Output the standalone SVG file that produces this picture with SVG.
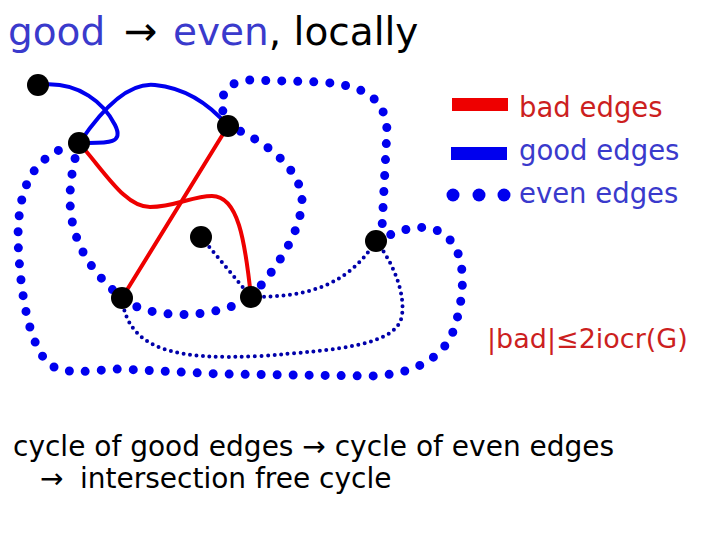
<svg xmlns="http://www.w3.org/2000/svg" width="720" height="540" viewBox="0 0 720 540">
<style>
text{font-family:"DejaVu Sans","Verdana",sans-serif}
.good{fill:none;stroke:#0000ee;stroke-width:4;stroke-linecap:round}
.bad{fill:none;stroke:#ee0000;stroke-width:4;stroke-linecap:round}
.even{fill:none;stroke:#0000ee;stroke-width:9;stroke-linecap:round;stroke-dasharray:0 16}
.small{fill:none;stroke:#0000aa;stroke-width:4;stroke-linecap:round;stroke-dasharray:0 6.5}
.node{fill:#000}
.blue{fill:#3a3acc}
.red{fill:#cc1f1f}
</style>
<rect width="720" height="540" fill="#fff"/>
<text x="8" y="45" font-size="39" class="blue">good<tspan x="124" font-size="40" fill="#000">→</tspan><tspan x="173">even</tspan><tspan fill="#000">, locally</tspan></text>
<g id="connectors">
<path class="even" d="M79,143 C66,190 58,245 122,298"/>
<path class="even" d="M123,299 C150,320 215,320 251,297"/>
<path class="even" d="M251,297 C275,270 300,235 302,202 C303,170 265,140 228,126"/>
<path class="even" d="M228,126 C218,105 218,82 250,80 L320,82 C360,85 385,95 387,130 L382,228 L376,241"/>
<path class="even" d="M376,241 C400,230 425,220 445,235 C470,255 463,300 455,326 C445,360 410,375 370,376 L220,374 L120,369 C90,370 70,376 50,365 C28,345 20,290 18,240 C18,190 30,155 79,143"/>
<path class="small" d="M201,237 L251,297"/>
<path class="small" d="M251,297 C300,297 345,290 376,241"/>
<path class="small" d="M376,241 C395,265 405,295 402,315 C398,345 340,350 260,356 C180,360 128,352 122,298"/>
<path class="good" d="M38,85 C80,80 105,105 115,125 C125,145 105,143 80,143"/>
<path class="good" d="M80,142 C105,105 130,82 155,85 C185,88 210,105 228,126"/>
<path class="bad" d="M228,126 L122,298"/>
<path class="bad" d="M79,143 C105,172 125,207 150,207 C175,207 192,196 212,196 C238,196 245,240 251,297"/>
</g>
<g id="nA"><circle class="node" cx="38" cy="85" r="11"/></g>
<g id="nB"><circle class="node" cx="79" cy="143" r="11"/></g>
<g id="nC"><circle class="node" cx="228" cy="126" r="11"/></g>
<g id="nD"><circle class="node" cx="201" cy="237" r="11"/></g>
<g id="nE"><circle class="node" cx="376" cy="241" r="11"/></g>
<g id="nF"><circle class="node" cx="122" cy="298" r="11"/></g>
<g id="nG"><circle class="node" cx="251" cy="297" r="11"/></g>
<g id="legend">
<rect x="452" y="98" width="56" height="13" fill="#ee0000"/>
<rect x="451" y="147" width="56" height="13" fill="#0000ee"/>
<circle cx="453" cy="195" r="6.5" fill="#0000ee"/>
<circle cx="479" cy="195" r="6.5" fill="#0000ee"/>
<circle cx="504" cy="195" r="6.5" fill="#0000ee"/>
<text x="519" y="117" font-size="27.5" class="red">bad edges</text>
<text x="519" y="160" font-size="27.5" class="blue">good edges</text>
<text x="519" y="203" font-size="27.5" class="blue">even edges</text>
</g>
<text x="487" y="348" font-size="27" class="red">|bad|≤2iocr(G)</text>
<text x="13" y="456" font-size="28">cycle of good edges → cycle of even edges</text>
<text x="40" y="488" font-size="28">→<tspan x="80">intersection free cycle</tspan></text>
</svg>
